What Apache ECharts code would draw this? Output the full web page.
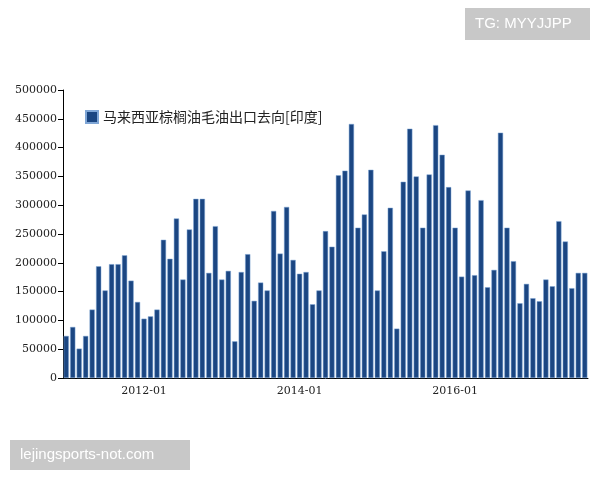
<!DOCTYPE html>
<html><head><meta charset="utf-8">
<script src="https://cdn.jsdelivr.net/npm/echarts@6/dist/echarts.min.js"></script>
<style>html,body{margin:0;padding:0;background:#fff}#c{width:600px;height:480px}</style>
</head><body><div id="c"></div>
<script>
// monthly, 2011-01 .. 2017-09
var months = [];
for (var y = 2011; y <= 2017; y++) {
  for (var m = 1; m <= 12; m++) {
    if (y === 2017 && m > 9) break;
    months.push(y + '-' + (m < 10 ? '0' + m : m));
  }
}
var exportsIndia = [
  73000, 88600, 51000, 73000, 118800, 194000, 152000, 197600, 197600, 213000, 169000, 132000,
  103000, 107000, 118800, 240000, 207000, 277000, 171000, 258000, 311000, 311000, 182500, 263600,
  171000, 186000, 63700, 184000, 215000, 134000, 165700, 152000, 290000, 216000, 297000, 205000,
  181000, 184000, 128000, 152000, 255000, 228000, 352000, 360000, 441000, 261000, 284000, 361500,
  152000, 220000, 295500, 85700, 340700, 432800, 350000, 261000, 353400, 439000, 387600, 331400,
  261000, 176000, 325600, 178500, 308800, 157600, 187700, 425900, 261000, 202800, 129800, 163400,
  138500, 133300, 171000, 159300, 272300, 237000, 155900, 182500, 182500
];
var shownLabels = ['2012-01', '2014-01', '2016-01'];

var chart = echarts.init(document.getElementById('c'));
chart.setOption({
  animation: false,
  textStyle: {fontFamily: 'DejaVu Serif'},
  grid: {left: 63, right: 12, top: 90, bottom: 102},
  legend: {
    left: 80, top: 105, itemWidth: 12, itemHeight: 12, icon: 'rect', itemGap: 4,
    textStyle: {fontFamily: 'Noto Sans CJK SC', fontSize: 14, color: '#222'},
    data: ['马来西亚棕榈油毛油出口去向[印度]']
  },
  xAxis: {
    type: 'category', data: months,
    axisLine: {lineStyle: {color: '#000'}},
    axisTick: {alignWithLabel: true, interval: function (i, v) { return shownLabels.indexOf(v) >= 0; }, lineStyle: {color: '#000'}},
    axisLabel: {interval: function (i, v) { return shownLabels.indexOf(v) >= 0; }, color: '#222', fontSize: 11}
  },
  yAxis: {
    type: 'value', min: 0, max: 500000, interval: 50000,
    axisLine: {show: true, lineStyle: {color: '#000'}},
    axisTick: {show: true, lineStyle: {color: '#000'}},
    splitLine: {show: false},
    axisLabel: {color: '#222', fontSize: 11, margin: 6, formatter: function (v) { return String(v); }}
  },
  series: [{
    name: '马来西亚棕榈油毛油出口去向[印度]', type: 'bar', data: exportsIndia,
    barCategoryGap: '20%',
    itemStyle: {color: '#1b4682', borderColor: '#7fa6d6', borderWidth: 0.5}
  }],
  graphic: [
    {type: 'rect', left: 465, top: 8, shape: {width: 125, height: 32}, style: {fill: '#c8c8c8'}},
    {type: 'text', left: 475, top: 16, style: {text: 'TG: MYYJJPP', fill: '#fff', font: '15px Liberation Sans'}},
    {type: 'rect', left: 10, top: 440, shape: {width: 180, height: 30}, style: {fill: '#c8c8c8'}},
    {type: 'text', left: 20, top: 447, style: {text: 'lejingsports-not.com', fill: '#fff', font: '15px Liberation Sans'}}
  ]
});
</script></body></html>
